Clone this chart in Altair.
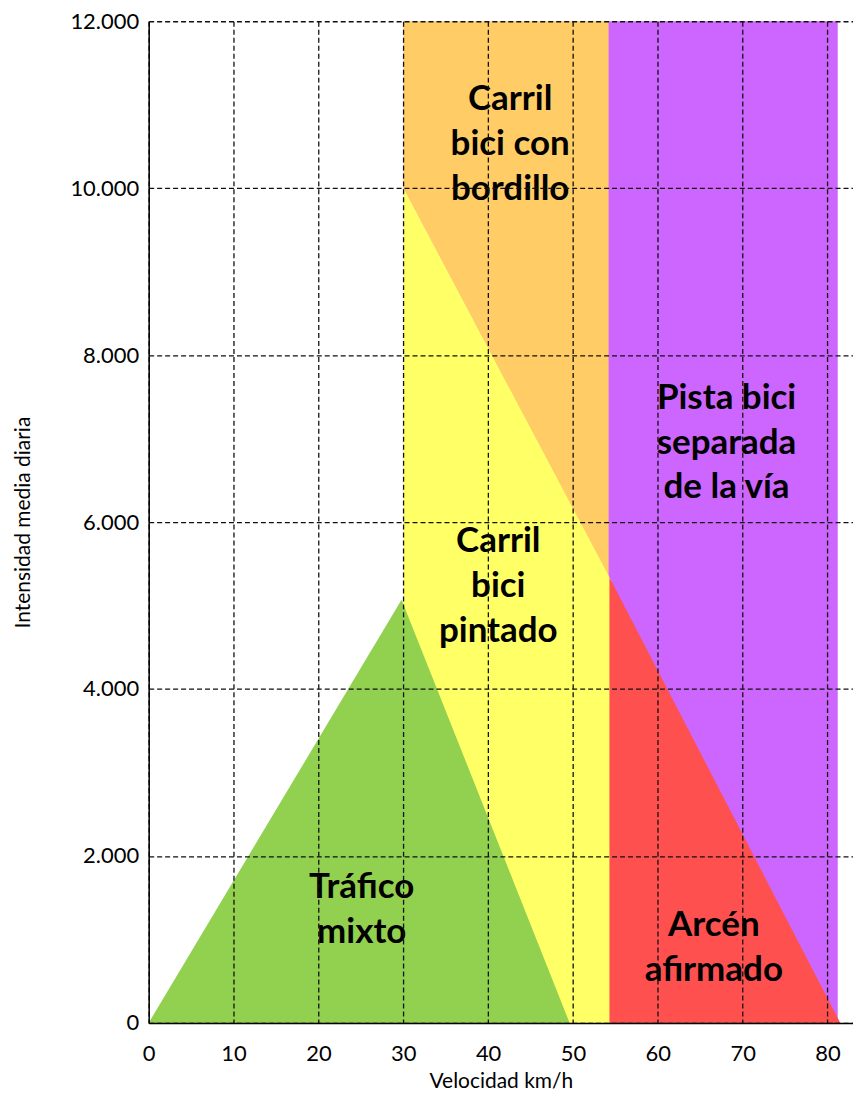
import altair as alt
import pandas as pd

# Region polygons (x in km/h, lower and upper bounds of IMD)
purple_x = [54.0, 81.2]
purple_lo = [0, 0]
purple_hi = [12000, 12000]

orange_x = [30, 54.2]
orange_lo = [10000, 5340]
orange_hi = [12000, 12000]

yellow_x = [30, 54.5]
yellow_lo = [0, 0]
yellow_hi = [10000, 5300]

red_x = [54.3, 81.5]
red_lo = [0, 0]
red_hi = [5340, 0]

green_x = [0, 29.8, 49.6]
green_lo = [0, 0, 0]
green_hi = [0, 5070, 0]

# Labels (anchor = first line)
label_text = ["Carril\nbici con\nbordillo", "Pista bici\nseparada\nde la vía",
              "Carril\nbici\npintado", "Tráfico\nmixto", "Arcén\nafirmado"]
label_x = [42.6, 68.1, 41.2, 25.1, 66.6]
label_y = [11067, 7490, 5767, 1627, 1173]

x_ticks = [0, 10, 20, 30, 40, 50, 60, 70, 80]
y_ticks = [0, 2000, 4000, 6000, 8000, 10000, 12000]

xs = alt.Scale(domain=[0, 83], nice=False, zero=False)
ys = alt.Scale(domain=[0, 12000], nice=False)


def region(xv, lo, hi, color):
    df = pd.DataFrame({"x": xv, "lo": lo, "hi": hi})
    return alt.Chart(df).mark_area(color=color, opacity=1, interpolate="linear").encode(
        x=alt.X("x:Q", scale=xs,
                axis=alt.Axis(values=x_ticks, title="Velocidad km/h", zindex=1,
                              labelFlush=False)),
        y=alt.Y("hi:Q", scale=ys, stack=None,
                axis=alt.Axis(values=y_ticks, title="Intensidad media diaria", zindex=1,
                              labelExpr="replace(format(datum.value, ','), ',', '.')")),
        y2="lo:Q",
    )


layers = [
    region(purple_x, purple_lo, purple_hi, "#CC66FF"),
    region(orange_x, orange_lo, orange_hi, "#FFCC66"),
    region(yellow_x, yellow_lo, yellow_hi, "#FFFF66"),
    region(red_x, red_lo, red_hi, "#FF5050"),
    region(green_x, green_lo, green_hi, "#92D050"),
]

labels = alt.Chart(pd.DataFrame({"t": label_text, "x": label_x, "y": label_y})).mark_text(
    font="Lato", fontSize=35, fontWeight="bold", color="black",
    lineBreak="\n", lineHeight=45, align="center", baseline="middle"
).encode(
    x=alt.X("x:Q", scale=xs),
    y=alt.Y("y:Q", scale=ys),
    text="t:N",
)

chart = alt.layer(*layers, labels).properties(
    width=706, height=1004,
    padding={"top": 1, "left": 5, "right": 0, "bottom": 5},
).configure_view(stroke=None).configure_axis(
    zindex=1,
    grid=True,
    gridColor="#111111",
    gridDash=[5, 3],
    gridWidth=1.3,
    domainColor="black",
    domainWidth=1.5,
    ticks=False,
    labelFont="Lato",
    labelFontSize=22,
    labelColor="black",
    titleFont="Lato",
    titleFontSize=21,
    titleFontWeight="normal",
    titleColor="black",
).configure_axisX(
    labelPadding=21, titlePadding=6,
).configure_axisY(
    labelPadding=10, titlePadding=36,
)

chart.save("out.html", embed_options={"renderer": "svg", "actions": False})
